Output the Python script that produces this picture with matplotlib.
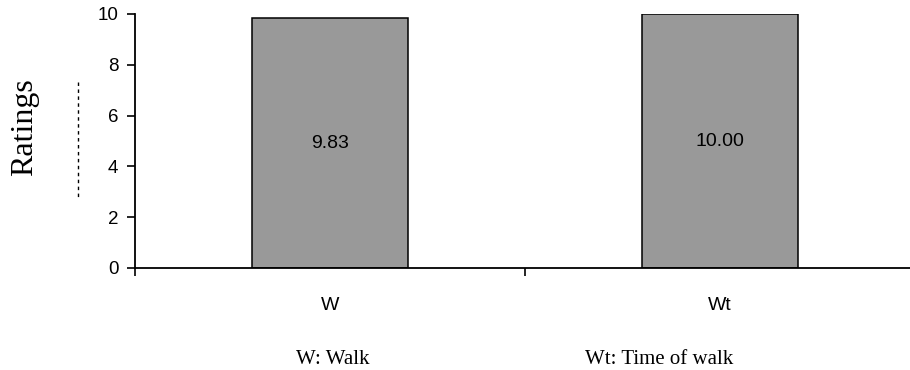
import matplotlib
matplotlib.use("Agg")
import matplotlib.pyplot as plt
from matplotlib.lines import Line2D

categories = ["W", "Wt"]
ratings = [9.83, 10.00]
value_labels = ["9.83", "10.00"]
yticks = [0, 2, 4, 6, 8, 10]
legend_notes = ["W: Walk", "Wt: Time of walk"]

W, H = 910, 370
fig = plt.figure(figsize=(W / 100, H / 100), dpi=100)

left, right = 135 / W, 915 / W
bottom, top = 1 - 268 / H, 1 - 14 / H
ax = fig.add_axes([left, bottom, right - left, top - bottom])

x = list(range(len(categories)))
ax.bar(x, ratings, width=0.4, color="#999999", edgecolor="black",
       linewidth=1.1, zorder=2)

for xi, v, lab in zip(x, ratings, value_labels):
    ax.text(xi, v / 2, lab, ha="center", va="center",
            fontsize=14, family="Liberation Sans", color="black")

ax.set_xlim(-0.5, len(categories) - 0.5)
ax.set_ylim(0, 10)
ax.set_yticks(yticks)
ax.set_yticklabels([str(t) for t in yticks], family="Liberation Sans",
                   fontsize=13.5)
ax.tick_params(axis="y", direction="out", length=6, width=1.2, pad=6)

ax.set_xticks(x)
ax.set_xticklabels(categories, family="Liberation Sans", fontsize=14)
ax.tick_params(axis="x", which="major", length=0, pad=21)
ax.set_xticks([i - 0.5 for i in range(len(categories) + 1)], minor=True)
ax.tick_params(axis="x", which="minor", direction="out", length=6, width=1.2)

for s in ["top", "right"]:
    ax.spines[s].set_visible(False)
for s in ["left", "bottom"]:
    ax.spines[s].set_linewidth(1.3)

fig.text(25 / W, 1 - 127 / H, "Ratings", rotation=90, ha="center",
         va="center", fontsize=23, family="Liberation Serif")

fig.add_artist(Line2D([78 / W, 78 / W], [1 - 82 / H, 1 - 200 / H],
                      transform=fig.transFigure, color="black",
                      linewidth=1.0, linestyle=(0, (2.5, 2.5))))

fig.text(333 / W, 1 - 359 / H, legend_notes[0], ha="center", va="center",
         fontsize=15, family="Liberation Serif")
fig.text(659 / W, 1 - 359 / H, legend_notes[1], ha="center", va="center",
         fontsize=15, family="Liberation Serif")

fig.savefig("out.png", dpi=100)
